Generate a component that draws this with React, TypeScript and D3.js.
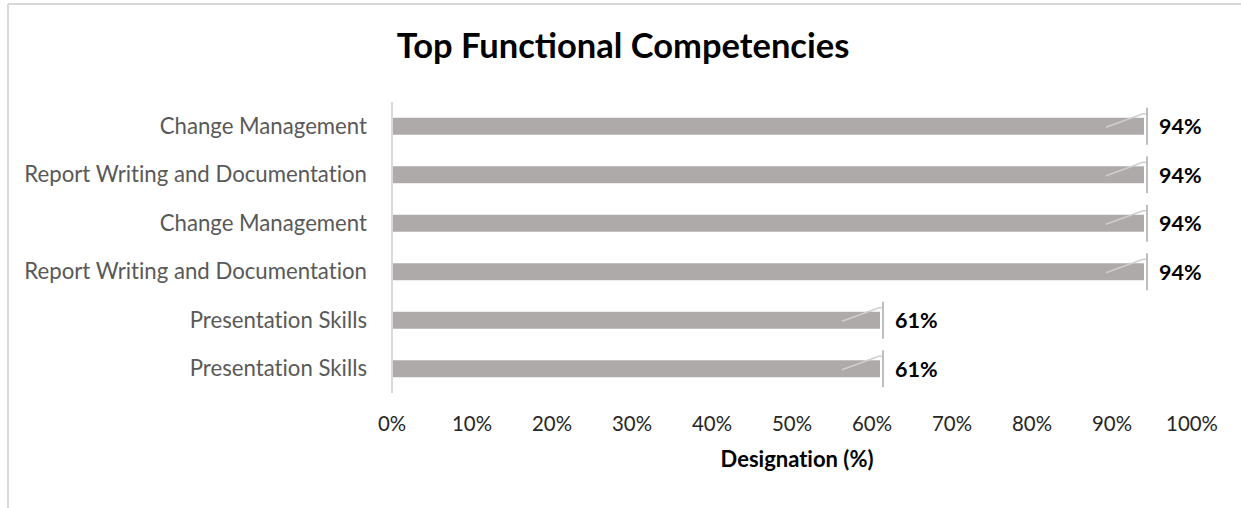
import { useEffect, useRef } from "react";
import * as d3 from "d3";

const CATEGORIES = [
  "Change Management",
  "Report Writing and Documentation",
  "Change Management",
  "Report Writing and Documentation",
  "Presentation Skills",
  "Presentation Skills",
];
const VALUES = [94, 94, 94, 94, 61, 61];
const TICKS = [0, 10, 20, 30, 40, 50, 60, 70, 80, 90, 100];

const W = 1241, H = 508;
const PLOT = { left: 392, right: 1192, top: 102, bottom: 393 };
const BAR_COLOR = "#AEAAAA";
const FONT = "Lato, 'Open Sans', sans-serif";

export default function App() {
  const svgRef = useRef<SVGSVGElement>(null);

  useEffect(() => {
    if (!svgRef.current) return;
    const svg = d3.select(svgRef.current);
    svg.selectAll("*").remove();

    // chart frame (only top/left edges fall inside the picture)
    svg.append("line").attr("x1", 8).attr("x2", W).attr("y1", 4).attr("y2", 4).attr("stroke", "#D9D9D9").attr("stroke-width", 2);
    svg.append("line").attr("x1", 8).attr("x2", 8).attr("y1", 4).attr("y2", H).attr("stroke", "#D9D9D9").attr("stroke-width", 2);

    const idx = CATEGORIES.map((_, i) => String(i));
    const x = d3.scaleLinear().domain([0, 100]).range([PLOT.left, PLOT.right]);
    const y = d3.scaleBand().domain(idx).range([PLOT.top, PLOT.bottom]).paddingInner(0.65).paddingOuter(0.325);
    const bh = y.bandwidth();

    svg.append("text").attr("x", 623).attr("y", 58).attr("text-anchor", "middle")
      .attr("font-family", FONT).attr("font-weight", 700).attr("font-size", "34.5px").attr("fill", "#000")
      .text("Top Functional Competencies");

    const g = svg.append("g").style("font-variant-ligatures", "none");

    g.selectAll("rect.bar").data(VALUES).join("rect").attr("class", "bar")
      .attr("x", x(0)).attr("y", (_, i) => y(idx[i])!)
      .attr("width", d => x(d) - x(0)).attr("height", bh)
      .attr("fill", BAR_COLOR);

    // the little leader marks at each bar end
    g.selectAll("path.lead").data(VALUES).join("path").attr("class", "lead")
      .attr("d", (d, i) => {
        const y0 = y(idx[i])!, xe = x(d);
        return `M${xe - 38},${y0 + bh / 2 + 1}L${xe - 1},${y0 - 4}L${xe + 3},${y0 - 4}`;
      })
      .attr("fill", "none").attr("stroke", "#D0CECE").attr("stroke-width", 1.5);
    g.selectAll("line.tick-end").data(VALUES).join("line").attr("class", "tick-end")
      .attr("x1", d => x(d) + 3).attr("x2", d => x(d) + 3)
      .attr("y1", (_, i) => y(idx[i])! - 10).attr("y2", (_, i) => y(idx[i])! + bh + 10)
      .attr("stroke", "#BFBFBF").attr("stroke-width", 2);

    // vertical axis line
    g.append("line").attr("x1", x(0)).attr("x2", x(0)).attr("y1", PLOT.top).attr("y2", PLOT.bottom)
      .attr("stroke", "#D9D9D9").attr("stroke-width", 2);

    g.selectAll("text.cat").data(CATEGORIES).join("text").attr("class", "cat")
      .attr("x", 367).attr("y", (_, i) => y(idx[i])! + bh / 2 + 7.5)
      .attr("text-anchor", "end").attr("font-family", FONT).attr("font-size", "22.2px").attr("fill", "#595959")
      .text(d => d);

    g.selectAll("text.val").data(VALUES).join("text").attr("class", "val")
      .attr("x", d => x(d) + 15).attr("y", (_, i) => y(idx[i])! + bh / 2 + 8)
      .attr("font-family", FONT).attr("font-weight", 700).attr("font-size", "21.5px").attr("fill", "#000")
      .text(d => `${d}%`);

    g.selectAll("text.xt").data(TICKS).join("text").attr("class", "xt")
      .attr("x", d => x(d)).attr("y", 431).attr("text-anchor", "middle")
      .attr("font-family", FONT).attr("font-size", "20.4px").attr("fill", "#262626")
      .text(d => `${d}%`);

    g.append("text").attr("x", 797).attr("y", 467).attr("text-anchor", "middle")
      .attr("font-family", FONT).attr("font-weight", 700).attr("font-size", "22px").attr("fill", "#000")
      .text("Designation (%)");
  }, []);

  return (
    <div style={{ position: "absolute", left: 0, top: 0, width: W, height: H, background: "#fff" }}>
      <svg ref={svgRef} width={W} height={H} style={{ display: "block" }} />
    </div>
  );
}
